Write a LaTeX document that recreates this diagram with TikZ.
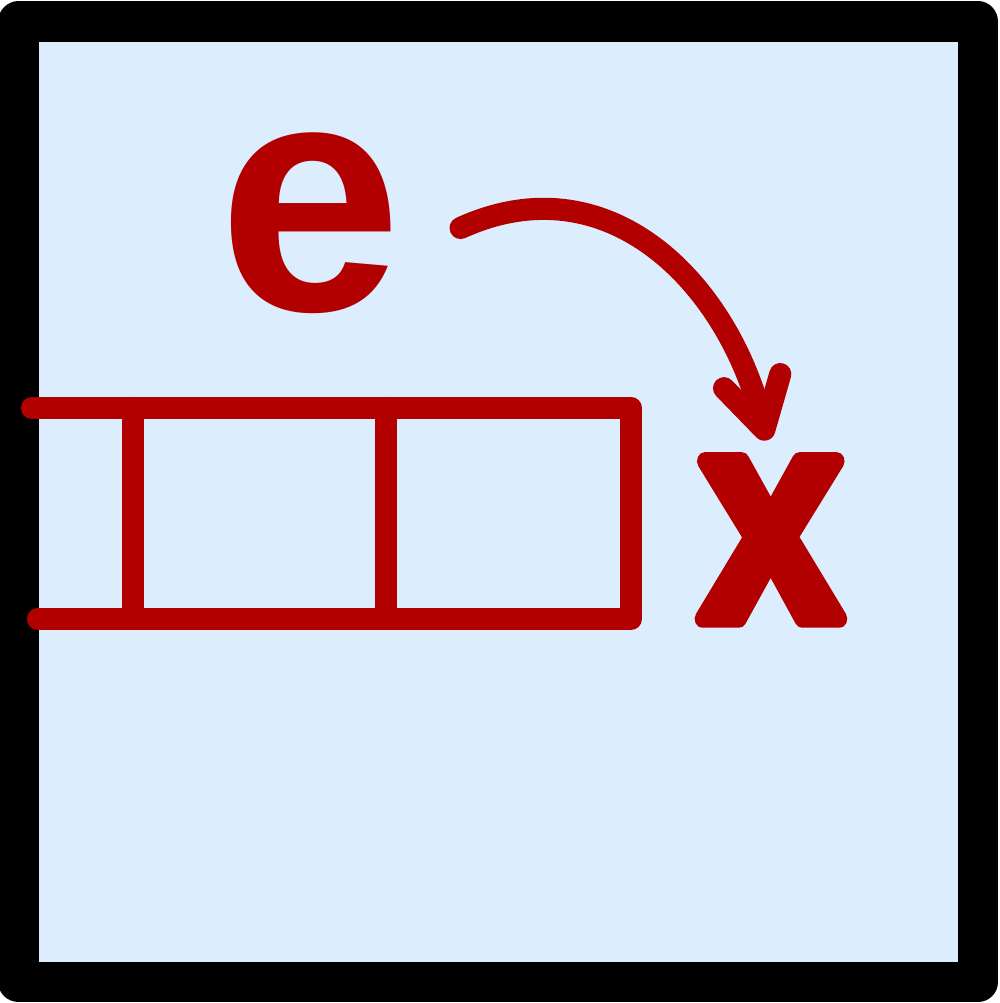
\documentclass[tikz,border=0pt]{standalone}
\usepackage{fontspec}
\setmainfont{Liberation Sans}
\usetikzlibrary{arrows.meta}
\definecolor{iconred}{HTML}{B20000}
\definecolor{iconblue}{HTML}{DCEEFD}
% fill and stroke the glyph with round joins
\newcommand{\roundglyph}[1]{\special{pdf:literal direct 2 Tr 1 j 1 J 5 w}#1\special{pdf:literal direct 0 Tr}}
\begin{document}
\begin{tikzpicture}[
    redline/.style={draw=iconred, line width=6.3pt, line cap=round, line join=round},
    letter/.style={text=iconred, inner sep=0pt, font=\fontsize{94}{94}\selectfont\bfseries}
  ]
        \useasboundingbox (0,0) rectangle (9.99,10.03);
        \draw[line width=11.4pt, line join=round, fill=iconblue] (0.185,0.21) rectangle (9.78,9.815);
        % letters
        \node[letter] (e) at (3.10,7.80) {e};
        \node[letter, font=\fontsize{85}{85}\selectfont\bfseries, xscale=0.85] (x) at (7.71,4.63) {\roundglyph{x}};
        % queue
        \draw[redline] (0.32,5.95) -- (6.31,5.95) -- (6.31,3.84) -- (0.38,3.84);
        \draw[redline] (1.33,5.95) -- (1.33,3.84);
        \draw[redline] (3.86,5.95) -- (3.86,3.84);
        % move
        \draw[redline, -{Straight Barb[length=0.5cm,width=0.58cm,round]}] ([xshift=0.58cm,yshift=-0.05cm]e.east) .. controls (6.10,8.43) and (7.28,7.18) .. ([xshift=-0.04cm,yshift=0.2cm]x.north);
    \end{tikzpicture}
\end{document}
